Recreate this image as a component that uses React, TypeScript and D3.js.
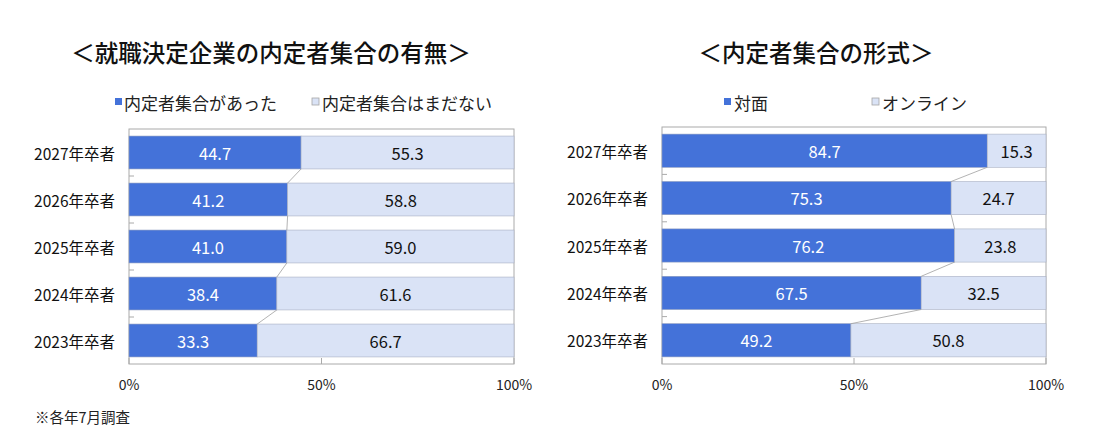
import React from 'react';
import * as d3 from 'd3';

// data
const years = ['2027年卒者', '2026年卒者', '2025年卒者', '2024年卒者', '2023年卒者'];
const heldValues = [44.7, 41.2, 41.0, 38.4, 33.3];
const notYetValues = [55.3, 58.8, 59.0, 61.6, 66.7];
const faceValues = [84.7, 75.3, 76.2, 67.5, 49.2];
const onlineValues = [15.3, 24.7, 23.8, 32.5, 50.8];
const xTicks = [0, 50, 100];

const DARK = '#4472d9';
const LIGHT = '#dae3f6';
const FONT = '"Noto Sans CJK JP", "Noto Sans", sans-serif';

interface PanelProps {
    title: string;
    titleX: number;
    legend: { label: string; sqX: number; textX: number; color: string }[];
    first: number[];
    second: number[];
    left: number;
    right: number;
    top: number;
    bottom: number;
}

const Panel: React.FC<PanelProps> = ({ title, titleX, legend, first, second, left, right, top, bottom }) => {
    const x = d3.scaleLinear().domain([0, 100]).range([left, right]);
    const y = d3.scaleBand<string>().domain(years).range([top, bottom]).paddingInner(0.3).paddingOuter(0.15);
    const bw = y.bandwidth();
    const step = y.step();

    return (
        <g>
            <text x={titleX} y={52} textAnchor="middle" dominantBaseline="central" fontSize={23.5} fontWeight={500} fill="#111">{title}</text>
            {legend.map((l, i) => (
                <g key={i}>
                    <rect x={l.sqX} y={98} width={7} height={7} fill={l.color} stroke={i === 1 ? '#a6a6a6' : 'none'} strokeWidth={0.8} />
                    <text x={l.textX} y={102} dominantBaseline="central" fontSize={17} fill="#222">{l.label}</text>
                </g>
            ))}
            {/* plot frame */}
            <rect x={left} y={top} width={right - left} height={bottom - top} fill="white" stroke="#aaaaaa" strokeWidth={1} />
            {/* category ticks */}
            {years.map((_, i) => i > 0 && (
                <line key={i} x1={left} x2={left + 5} y1={top + i * step} y2={top + i * step} stroke="#aaaaaa" />
            ))}
            {xTicks.map(t => (
                <line key={t} x1={x(t)} x2={x(t)} y1={bottom} y2={bottom - 6} stroke="#aaaaaa" />
            ))}
            {/* bars */}
            {years.map((yr, i) => (
                <g key={yr}>
                    <rect x={x(0)} y={y(yr)} width={x(first[i]) - x(0)} height={bw} fill={DARK} stroke="#8c9bbf" strokeWidth={0.6} />
                    <rect x={x(first[i])} y={y(yr)} width={x(first[i] + second[i]) - x(first[i])} height={bw} fill={LIGHT} stroke="#a9b0c2" strokeWidth={0.6} />
                    <text x={(x(0) + x(first[i])) / 2} y={(y(yr) as number) + bw / 2} textAnchor="middle" dominantBaseline="central" fontSize={16.5} fill="white">{first[i].toFixed(1)}</text>
                    <text x={(x(first[i]) + x(100)) / 2} y={(y(yr) as number) + bw / 2} textAnchor="middle" dominantBaseline="central" fontSize={16.5} fill="#111">{second[i].toFixed(1)}</text>
                    <text x={left - 14} y={(y(yr) as number) + bw / 2} textAnchor="end" dominantBaseline="central" fontSize={15.5} fill="#111">{yr}</text>
                </g>
            ))}
            {/* series lines */}
            {years.slice(0, -1).map((yr, i) => (
                <line key={yr} x1={x(first[i])} y1={(y(yr) as number) + bw} x2={x(first[i + 1])} y2={y(years[i + 1]) as number} stroke="#a0a0a0" strokeWidth={0.8} />
            ))}
            {xTicks.map(t => (
                <text key={t} x={x(t)} y={384} textAnchor="middle" dominantBaseline="central" fontSize={14} fill="#222">{t}%</text>
            ))}
        </g>
    );
};

const App: React.FC = () => {
    return (
        <svg width={1099} height={433} style={{ position: 'absolute', left: 0, top: 0, background: 'white', fontFamily: FONT }}>
            <Panel
                title="＜就職決定企業の内定者集合の有無＞"
                titleX={271}
                legend={[
                    { label: '内定者集合があった', sqX: 115, textX: 124, color: DARK },
                    { label: '内定者集合はまだない', sqX: 312, textX: 322, color: LIGHT },
                ]}
                first={heldValues}
                second={notYetValues}
                left={129}
                right={514}
                top={129}
                bottom={364}
            />
            <Panel
                title="＜内定者集合の形式＞"
                titleX={816}
                legend={[
                    { label: '対面', sqX: 724, textX: 734, color: DARK },
                    { label: 'オンライン', sqX: 872, textX: 882, color: LIGHT },
                ]}
                first={faceValues}
                second={onlineValues}
                left={662}
                right={1046}
                top={127}
                bottom={364}
            />
            <text x={35} y={416} dominantBaseline="central" fontSize={14.5} fill="#222">※各年7月調査</text>
        </svg>
    );
};

export default App;
